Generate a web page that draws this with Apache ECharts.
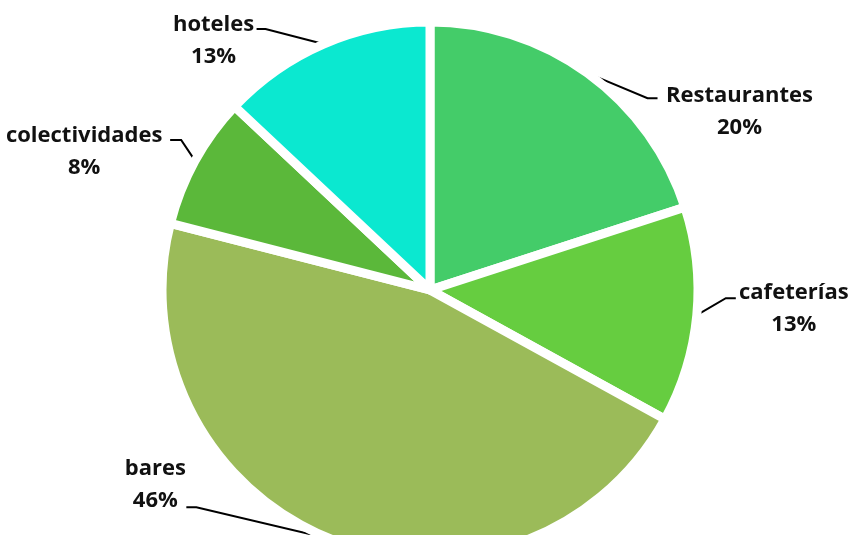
<!DOCTYPE html>
<html>
<head>
<meta charset="utf-8">
<script src="https://cdn.jsdelivr.net/npm/echarts@6/dist/echarts.min.js"></script>
<style>
html, body { margin: 0; padding: 0; background: #fff; }
#chart { width: 850px; height: 535px; }
</style>
</head>
<body>
<div id="chart"></div>
<script>
// datos
var categories = ['Restaurantes', 'cafeterías', 'bares', 'colectividades', 'hoteles'];
var values = [20, 13, 46, 8, 13];
var colors = ['#44CC69', '#66CD40', '#9BBB59', '#5BB83A', '#0BE8D0'];

// desplazamientos de etiquetas respecto al punto del borde
var elbowOff = [[60, 25], [29, -17], [-135, -32], [-14, -21], [-58, -15]];
var endOff = [[70, 25], [39, -17], [-145, -32], [-25, -21], [-67, -15]];
var labelOff = [[152, 39], [97, -6], [-176, -54], [-111, -9], [-110, -3]];

var data = categories.map(function (name, i) {
    return { name: name, value: values[i], itemStyle: { color: colors[i] } };
});

var option = {
    animation: false,
    backgroundColor: '#fff',
    series: [{
        type: 'pie',
        center: [430, 290],
        radius: 268,
        startAngle: 90,
        clockwise: true,
        avoidLabelOverlap: false,
        percentPrecision: 0,
        data: data,
        itemStyle: {
            borderColor: '#fff',
            borderWidth: 9
        },
        label: {
            show: true,
            position: 'outside',
            formatter: '{b}\n{d}%',
            color: '#111',
            fontFamily: 'Open Sans',
            fontWeight: 'bold',
            fontSize: 22,
            lineHeight: 32,
            align: 'center'
        },
        labelLine: {
            show: true,
            length: 20,
            length2: 10,
            lineStyle: { color: '#000', width: 2 }
        },
        labelLayout: function (params) {
            var i = params.dataIndex;
            var p = params.labelLinePoints[0];
            return {
                x: p[0] + labelOff[i][0],
                y: p[1] + labelOff[i][1],
                align: 'center',
                verticalAlign: 'middle',
                labelLinePoints: [
                    [p[0], p[1]],
                    [p[0] + elbowOff[i][0], p[1] + elbowOff[i][1]],
                    [p[0] + endOff[i][0], p[1] + endOff[i][1]]
                ]
            };
        },
        emphasis: { disabled: true }
    }]
};

var myChart = echarts.init(document.getElementById('chart'));
myChart.setOption(option);
window.addEventListener('resize', function () {
    myChart.resize();
}, false);
</script>
</body>
</html>
